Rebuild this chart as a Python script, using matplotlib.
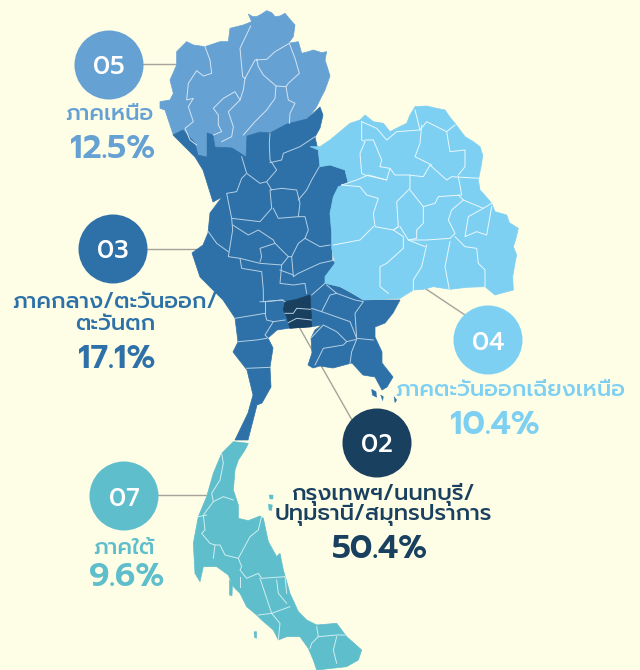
import matplotlib
matplotlib.use('Agg')
import matplotlib.pyplot as plt
from matplotlib.patches import Polygon, Circle

BG = '#FEFDE6'
C_NORTH, C_CENTRAL, C_NE, C_BKK, C_SOUTH = '#65A1D3', '#2D71A8', '#7ED0F2', '#19405F', '#5FBECB'
FONT = ['Prompt', 'DejaVu Sans']

def z1(p): return [(160 + x / 3, y / 3) for x, y in p]
def z2(p): return [(190 + x / 3, 280 + y / 3) for x, y in p]
def z3(p): return [(190 + x / 3, 430 + y / 3) for x, y in p]

north_outline = z1([(265,42),(278,50),(290,50),(305,42),(320,32),(335,38),(345,50),(360,48),(375,40),(390,58),(405,75),(400,110),(385,130),(415,125),(425,160),(445,155),(460,150),(485,158),(500,155),(495,180),(503,205),(510,228),(495,270),(482,295),(470,320),(440,360),(385,372),(330,400),(300,395),(262,408),(258,470),(240,460),(215,445),(165,440),(160,405),(140,400),(140,470),(115,465),(105,430),(70,390),(40,405),(25,360),(15,330),(0,325),(0,305),(30,300),(40,280),(30,240),(50,195),(50,155),(80,125),(100,135),(135,140),(180,125),(205,125),(210,85),(250,75),(275,65)])

central_outline = [(320,107),(323,115),(320,128),(315,137),(318,150),(320,167),(330,165),(345,170),(348,183),(338,187),(330,213),(332,233),(332,260),(335,263),(325,277),(325,283),(340,287),(363,300),(400,300),(393,313),(385,323),(375,327),(375,337),(382,352),(382,363),(393,377),(387,387),(382,390),(375,377),(363,375),(352,363),(348,364),(333,368),(320,366),(313,368),(308,365),(312,353),(311,338),(315,330),(322,325),(310,327),(290,328),(277,330),(268,338),(273,348),(270,367),(271,387),(262,403),(257,405),(248,440),(235,440),(248,413),(253,395),(247,370),(233,352),(238,342),(235,318),(223,300),(200,277),(192,253),(203,245),(208,233),(210,213),(222,197),(213,202),(203,170),(195,157),(173,135),(183,130),(195,143),(198,155),(207,157),(207,133),(213,135),(215,147),(232,148),(240,153),(246,157),(247,136),(260,132),(270,133),(287,124),(307,119)]

ne_outline = z1([(450,440),(480,440),(510,420),(540,395),(570,370),(600,360),(615,345),(640,365),(670,370),(690,395),(715,382),(740,370),(750,345),(765,320),(800,318),(830,325),(855,330),(870,352),(885,370),(915,410),(940,425),(960,440),(968,465),(965,490),(955,540),(960,570),(980,592),(995,610),(1005,635),(1040,645),(1048,668),(1075,685),(1068,715),(1060,740),(1070,765),(1065,790),(1058,830),(1060,870),(1030,878),(1005,885),(975,860),(920,862),(870,868),(820,860),(790,868),(760,870),(720,895),(665,898),(610,900),(575,878),(540,860),(495,850),(495,830),(525,790),(515,745),(515,700),(510,640),(520,590),(535,560),(565,550),(555,510),(510,495),(480,500),(475,450)])

bkk_outline = z2([(285,65),(320,58),(360,45),(365,120),(365,140),(300,145),(290,110),(280,90)])

south_outline = z3([(130,35),(175,40),(165,60),(145,90),(135,120),(130,180),(145,225),(145,265),(175,272),(210,258),(220,265),(235,335),(260,380),(270,370),(280,420),(300,490),(325,545),(350,570),(380,585),(440,580),(470,620),(515,660),(505,690),(470,710),(380,720),(370,690),(355,655),(330,620),(290,620),(265,630),(250,600),(215,570),(200,555),(170,530),(150,490),(130,470),(115,435),(80,410),(40,410),(30,455),(15,430),(10,340),(25,260),(50,200),(70,130),(95,70)])
south_islands = [z3([(238,195),(250,195),(250,207),(240,207)]), z3([(235,222),(247,225),(245,242),(237,240)]), z3([(192,605),(200,605),(200,625),(193,622)]), z3([(118,450),(128,460),(126,498),(118,495)])]
central_islands = [z2([(545,328),(558,335),(560,352),(547,345)]), z2([(572,345),(580,350),(578,362)]), z2([(612,350),(620,360),(615,368)])]

north_lines = [z1(l) for l in [
 [(272,78),(240,145),(248,230),(255,235)],
 [(255,235),(285,180),(320,178),(345,155),(388,130),(405,175),(418,220),(385,250),(378,260),(348,258),(310,225),(295,200),(290,178)],
 [(348,258),(345,295),(320,330),(285,365),(250,405)],
 [(378,260),(385,300),(405,310),(390,340),(388,370)],
 [(255,235),(250,270),(240,300),(205,335),(220,380),(215,410),(185,425)],
 [(240,300),(225,275),(190,295),(160,325),(175,345),(175,375),(185,395),(160,405)],
 [(135,140),(150,180),(155,220),(130,228),(110,212),(85,250),(80,300),(100,295),(85,320),(100,365),(75,385),(90,420),(110,435)],
]]
central_lines = [z1(l) for l in [
 [(330,400),(328,430),(330,480),(350,510),(320,545),(300,550),(260,520),(245,470)],
 [(330,488),(365,480),(370,460),(420,440),(465,410)],
 [(258,522),(245,535),(230,575),(200,580),(215,655),(300,665),(335,625),(330,570),(365,565),(410,570),(420,610),(415,650),(355,655),(340,625)],
 [(320,545),(335,570)],
 [(415,600),(440,570),(455,540),(478,500)],
 [(215,655),(218,690),(205,770),(240,775),(300,790),(365,795),(385,770),(345,730),(300,745),(305,770),(300,785)],
 [(218,675),(265,705),(295,690),(340,720),(345,730)],
 [(415,650),(435,650),(445,690),(435,715),(415,730),(395,770)],
 [(435,715),(480,740),(510,735)],
 [(145,695),(170,730),(205,755)],
 [(385,770),(395,770),(400,830),(415,820),(480,790),(525,780)],
 [(240,775),(245,805),(305,815),(310,870),(310,905),(370,900)],
 [(365,795),(360,850),(400,855),(435,850),(440,880)],
 [(360,810),(400,825)],
 [(455,885),(495,850)],
]] + [z2(l) for l in [
 [(135,115),(225,100),(230,120),(250,125),(285,120)],
 [(210,65),(225,65),(275,60),(285,65)],
 [(225,65),(225,100)],
 [(235,175),(225,165),(250,125)],
 [(145,185),(200,180),(230,175)],
 [(170,265),(240,262)],
 [(365,85),(395,95),(480,125),(500,175)],
 [(395,95),(420,45),(440,40),(410,15)],
 [(440,40),(495,60),(520,65),(495,100),(500,175),(550,180)],
 [(362,175),(400,135),(440,155),(470,185),(460,195),(400,205),(375,255)],
 [(470,185),(500,178),(485,215),(480,250)],
]]
bkk_lines = [z2(l) for l in [
 [(285,100),(310,100),(320,85),(362,88)],
 [(295,128),(320,115),(365,120)],
]]
ne_lines = [z1(l) for l in [
 [(605,365),(605,420),(615,425),(600,460),(605,520),(615,525),(680,540),(690,505),(705,525),(745,525),(790,530),(810,495),(860,540),(875,530),(960,535)],
 [(615,420),(640,420),(665,480),(660,500),(690,505)],
 [(605,365),(650,385),(680,420),(710,395),(780,390),(770,350),(765,330)],
 [(780,390),(800,365),(860,395),(885,375)],
 [(785,375),(780,430),(765,470),(815,495)],
 [(860,395),(870,455),(915,450),(915,500),(895,525)],
 [(545,555),(600,560),(620,585),(655,595),(640,640),(645,680),(700,690),(715,680)],
 [(680,540),(625,525),(590,540),(545,555)],
 [(750,525),(750,565),(710,605),(715,680),(700,690),(730,710),(730,745),(680,790),(660,800),(660,860),(685,880)],
 [(640,680),(600,720),(520,735)],
 [(750,570),(790,620),(790,670),(770,690),(770,715),(745,720),(720,680)],
 [(790,620),(825,610),(835,590),(905,585),(895,530)],
 [(895,585),(910,600),(875,630),(865,660),(885,700),(870,715),(800,720),(745,720)],
 [(910,600),(970,625),(995,610)],
 [(970,625),(925,650),(915,710),(950,695),(980,705),(995,620)],
 [(885,710),(915,740),(950,745),(955,790),(975,810),(975,860)],
 [(870,725),(855,800),(868,868)],
 [(800,735),(785,800),(760,840),(760,870)],
 [(745,720),(795,740)],
]]
south_lines = [z3(l) for l in [
 [(95,70),(100,100),(90,150),(65,190),(70,215),(100,200),(130,210)],
 [(70,215),(40,255),(45,300),(35,310),(60,340),(75,345),(90,345),(105,375),(145,385),(155,410),(150,420),(170,445),(205,430),(215,445),(285,440)],
 [(50,255),(25,260)],
 [(145,385),(180,320),(205,300),(215,258)],
 [(150,440),(150,470)],
 [(210,445),(245,550),(300,530)],
 [(205,555),(245,550),(270,580),(265,630)],
 [(260,450),(265,490),(290,520)],
 [(285,440),(290,490)],
 [(75,345),(70,385)],
 [(380,590),(385,620),(365,640),(360,655)],
 [(385,620),(440,615),(465,615)],
 [(440,620),(430,660),(440,700)],
]]

region_fill = [(north_outline, C_NORTH), (central_outline, C_CENTRAL), (ne_outline, C_NE), (south_outline, C_SOUTH), (bkk_outline, C_BKK)]
region_lines = [(north_lines, '#D4E4F2'), (central_lines, '#B5CFE4'), (ne_lines, '#EAF8FD'), (south_lines, '#CFEEF2'), (bkk_lines, '#B5CFE4')]

badges = ['05', '03', '04', '02', '07']
badge_xy = [(109, 65), (113, 249), (488, 340), (377, 443), (124, 496)]
badge_colors = [C_NORTH, C_CENTRAL, C_NE, C_BKK, C_SOUTH]
connectors = [[(143,64),(176,64)], [(147,249),(197,249)], [(426,289),(465,315)], [(298,325),(352,420)], [(158,495),(206,495)]]

names = [('ภาคเหนือ',), ('ภาคกลาง/ตะวันออก/', 'ตะวันตก'), ('ภาคตะวันออกเฉียงเหนือ',), ('กรุงเทพฯ/นนทบุรี/', 'ปทุมธานี/สมุทรปราการ'), ('ภาคใต้',)]
name_xy = [[(109,115)], [(115,302),(115,324)], [(510,391)], [(383,495),(383,515)], [(124,548)]]
shares = ['12.5%', '17.1%', '10.4%', '50.4%', '9.6%']
share_xy = [(113,150), (117,359), (495,425), (380,550), (127,578)]

fig = plt.figure(figsize=(6.4, 6.7), dpi=100, facecolor=BG)
ax = fig.add_axes([0, 0, 1, 1])
ax.set_xlim(0, 640); ax.set_ylim(670, 0); ax.axis('off')

for pts in connectors:
    ax.plot(*zip(*pts), color='#A5A39A', lw=1.0, zorder=1)
for outline, c in region_fill:
    ax.add_patch(Polygon(outline, closed=True, fc=c, ec=c, lw=0.5, zorder=2))
for isl in south_islands:
    ax.add_patch(Polygon(isl, closed=True, fc=C_SOUTH, ec=C_SOUTH, lw=0.3, zorder=2))
for isl in central_islands:
    ax.add_patch(Polygon(isl, closed=True, fc=C_CENTRAL, ec=C_CENTRAL, lw=0.3, zorder=2))
for lines, c in region_lines:
    for l in lines:
        ax.plot(*zip(*l), color=c, lw=0.7, zorder=3, solid_joinstyle='round')
for lab, (x, y), c in zip(badges, badge_xy, badge_colors):
    ax.add_patch(Circle((x, y), 34.5, fc=c, ec='none', zorder=4))
    ax.text(x, y, lab, color='white', fontsize=18, family=FONT, weight=500, ha='center', va='center_baseline', zorder=5)
for lines, xys, c in zip(names, name_xy, badge_colors):
    for t, (x, y) in zip(lines, xys):
        ax.text(x, y, t, color=c, fontsize=16.2, family=FONT, weight=500, ha='center', va='center', zorder=5)
for t, (x, y), c in zip(shares, share_xy, badge_colors):
    ax.text(x, y, t, color=c, fontsize=23.5, family=FONT, weight=600, ha='center', va='center', zorder=5)

fig.savefig('out.png', dpi=100, facecolor=BG)
